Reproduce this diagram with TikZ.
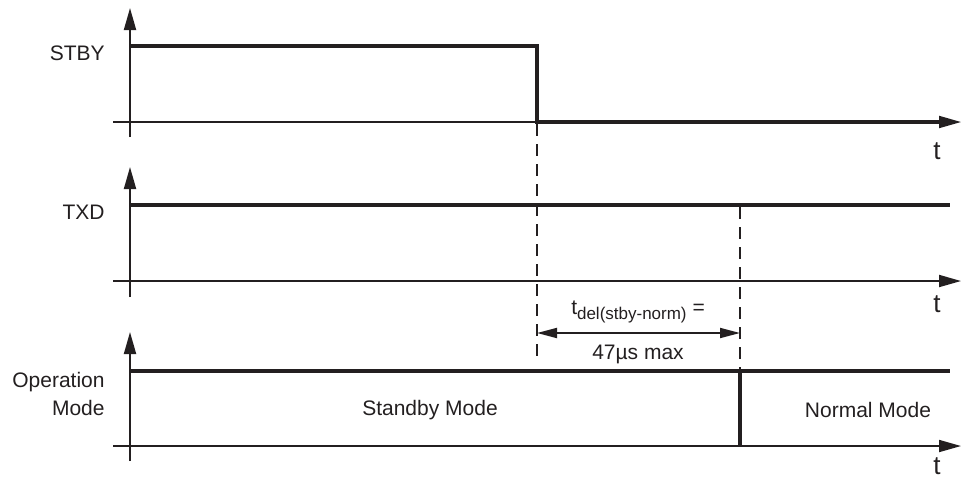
\documentclass[tikz,border=0pt]{standalone}
\usepackage{fontspec}
\setmainfont{Liberation Sans}
\usetikzlibrary{arrows.meta}

\definecolor{ink}{HTML}{231F20}

\begin{document}
\begin{tikzpicture}[x=0.5pt, y=-0.5pt, color=ink,
    every node/.style={font=\fontsize{10.5}{12.5}\selectfont, inner sep=0pt, text=ink},
    tlabel/.style={font=\fontsize{13}{15}\selectfont},
    axis/.style={line width=0.9pt, -{Triangle[length=11pt, width=6pt]}},
    signal/.style={line width=2pt},
    guide/.style={line width=0.8pt, dash pattern=on 6pt off 4pt},
    span/.style={line width=0.9pt, {Triangle[length=10pt, width=5pt]}-{Triangle[length=10pt, width=5pt]}}]
    \useasboundingbox (0,0) rectangle (962,477);

    % STBY
    \coordinate (s0) at (130,137);
    \coordinate (s1) at (130,8);
    \coordinate (sa) at (113,122);
    \coordinate (sb) at (961,122);
    \draw[axis] (s0) -- (s1);
    \draw[axis] (sa) -- (sb);
    \node (stby) at (105,53) [anchor=east] {STBY};
    \node (ts) at (937,151) [tlabel] {t};
    \coordinate (sh1) at (130,46);
    \coordinate (sh2) at (537,46);
    \coordinate (sl1) at (537,122);
    \coordinate (sl2) at (950,122);
    \draw[signal] (sh1) -- (sh2) -- (sl1) -- (sl2);

    % TXD
    \coordinate (x0) at (130,297);
    \coordinate (x1) at (130,167);
    \coordinate (xa) at (113,281);
    \coordinate (xb) at (961,281);
    \draw[axis] (x0) -- (x1);
    \draw[axis] (xa) -- (xb);
    \node (txd) at (105,212) [anchor=east] {TXD};
    \node (tx) at (937,304) [tlabel] {t};
    \coordinate (xh1) at (130,205);
    \coordinate (xh2) at (950,205);
    \draw[signal] (xh1) -- (xh2);

    % Operation Mode
    \coordinate (m0) at (130,461);
    \coordinate (m1) at (130,332);
    \coordinate (ma) at (113,446);
    \coordinate (mb) at (961,446);
    \draw[axis] (m0) -- (m1);
    \draw[axis] (ma) -- (mb);
    \node (op) at (105,382) [anchor=east] {Operation};
    \node (mode) at (105,408) [anchor=east] {Mode};
    \node (tm) at (937,466) [tlabel] {t};
    \coordinate (mh1) at (130,371);
    \coordinate (mh2) at (950,371);
    \coordinate (mt) at (740,371);
    \coordinate (mb2) at (740,446);
    \draw[signal] (mh1) -- (mh2);
    \draw[signal] (mt) -- (mb2);
    \node (stbymode) at (430,410) {Standby Mode};
    \node (normmode) at (868,410) {Normal Mode};

    % delay
    \coordinate (d1) at (537,124);
    \coordinate (d2) at (537,358);
    \coordinate (e1) at (740,207);
    \coordinate (e2) at (740,371);
    \draw[guide] (d1) -- (d2);
    \draw[guide] (e1) -- (e2);
    \coordinate (a1) at (537,333);
    \coordinate (a2) at (740,333);
    \draw[span] (a1) -- (a2);
    \node (tdel) at (638,312) {t\raisebox{-0.45ex}{\fontsize{8.5}{10}\selectfont del(stby-norm)} =};
    \node (tmax) at (638,354) {47µs max};
\end{tikzpicture}
\end{document}
